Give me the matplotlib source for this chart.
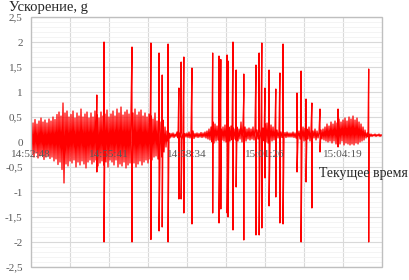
import matplotlib
matplotlib.use('Agg')
from matplotlib import pyplot as plt
from matplotlib.patches import Rectangle
from matplotlib.ticker import MultipleLocator

# time step between samples, seconds (one sample ~ 2 px of the original chart)
step = 4.436
grid_step = 86.5
x_end = 778.5

tick_pos = [0, 173, 346, 519, 692]
tick_labels = ['14:52:48', '14:55:41', '14:58:34', '15:01:26', '15:04:19']

y_ticks = [2.5, 2, 1.5, 1, 0.5, 0, -0.5, -1, -1.5, -2, -2.5]
y_labels = ['2,5', '2', '1,5', '1', '0,5', '0', '-0,5', '-1', '-1,5', '-2', '-2,5']

# local maxima / minima of the oscillation, one pair per sample
peaks_hi = [
    0.40, 0.38, 0.45, 0.36, 0.42, 0.48, 0.40, 0.44, 0.38, 0.46,
    0.42, 0.50, 0.45, 0.55, 0.60, 0.52, 0.78, 0.58, 0.62, 0.50,
    0.55, 0.62, 0.48, 0.58, 0.52, 0.66, 0.50, 0.56, 0.60, 0.48,
    0.58, 0.50, 0.62, 0.54, 0.48, 0.60, 0.52, 0.56, 0.64, 0.50,
    0.56, 0.62, 0.52, 0.66, 0.58, 0.70, 0.54, 0.60, 0.64, 0.56,
    0.62, 0.58, 0.66, 0.54, 0.60, 0.64, 0.52, 0.58, 0.50, 0.56,
    0.52, 0.46, 0.58, 0.42, 0.50, 0.40, 0.44, 0.30, 0.22, 0.18,
    0.17, 0.18, 0.16, 0.20, 0.18, 0.24, 0.19, 0.17, 0.18, 0.20,
    0.18, 0.22, 0.17, 0.18, 0.17, 0.19, 0.18, 0.20, 0.22, 0.26,
    0.30, 0.40, 0.36, 0.32, 0.28, 0.26, 0.30, 0.34, 0.28, 0.30,
    0.32, 0.28, 0.26, 0.30, 0.26, 0.40, 0.36, 0.30, 0.26, 0.28,
    0.26, 0.30, 0.28, 0.24, 0.30, 0.26, 0.28, 0.36, 0.38, 0.32,
    0.34, 0.30, 0.28, 0.24, 0.22, 0.20, 0.18, 0.19, 0.20, 0.18,
    0.18, 0.20, 0.18, 0.20, 0.22, 0.26, 0.30, 0.28, 0.26, 0.30,
    0.24, 0.22, 0.26, 0.22, 0.20, 0.24, 0.26, 0.30, 0.36, 0.32,
    0.40, 0.36, 0.42, 0.38, 0.46, 0.40, 0.44, 0.48, 0.42, 0.50,
    0.46, 0.52, 0.44, 0.48, 0.40, 0.36, 0.30, 0.24, 0.18, 0.16,
    0.16, 0.15, 0.16, 0.15, 0.16, 0.15,
]
peaks_lo = [
    -0.25, -0.30, -0.22, -0.32, -0.28, -0.26, -0.35, -0.30, -0.28, -0.33,
    -0.30, -0.38, -0.34, -0.45, -0.40, -0.55, -0.82, -0.44, -0.48, -0.38,
    -0.42, -0.36, -0.50, -0.40, -0.46, -0.38, -0.44, -0.52, -0.40, -0.36,
    -0.44, -0.40, -0.36, -0.48, -0.42, -0.38, -0.46, -0.40, -0.50, -0.36,
    -0.40, -0.46, -0.36, -0.50, -0.44, -0.48, -0.40, -0.52, -0.46, -0.42,
    -0.48, -0.42, -0.50, -0.44, -0.38, -0.46, -0.40, -0.36, -0.42, -0.34,
    -0.36, -0.30, -0.28, -0.34, -0.24, -0.30, -0.20, -0.10, 0.02, 0.08,
    0.10, 0.09, 0.11, 0.08, 0.10, 0.04, 0.09, 0.10, 0.09, 0.08,
    0.10, 0.07, 0.10, 0.09, 0.10, 0.09, 0.10, 0.08, 0.06, 0.04,
    0.00, -0.02, 0.02, 0.04, 0.06, 0.04, 0.02, 0.00, 0.04, 0.02,
    0.04, 0.06, 0.04, 0.02, 0.06, 0.00, -0.04, 0.02, 0.06, 0.04,
    0.06, 0.04, 0.02, 0.06, 0.04, 0.06, 0.02, 0.00, -0.02, 0.00,
    0.02, 0.04, 0.06, 0.08, 0.10, 0.09, 0.10, 0.09, 0.10, 0.10,
    0.10, 0.09, 0.08, 0.10, 0.06, 0.04, 0.02, 0.04, 0.06, 0.02,
    0.06, 0.08, 0.04, 0.08, 0.08, 0.06, 0.04, 0.02, 0.00, 0.02,
    -0.02, 0.02, -0.04, 0.00, -0.04, 0.02, -0.06, -0.02, -0.04, -0.06,
    -0.04, -0.06, -0.02, -0.04, 0.00, 0.02, 0.04, 0.08, 0.10, 0.11,
    0.11, 0.12, 0.11, 0.12, 0.11, 0.12,
]

# isolated shocks: time (s from 14:52:48), max and min, g
spike_t = [146, 162, 224, 266, 284, 291, 304, 328, 333, 339, 357,
           403, 417, 421, 435, 437, 448, 455, 472, 472, 499, 506,
           512, 519, 528, 543, 552, 559, 590, 599, 610, 623, 641, 681, 749]
spike_hi = [0.94, 2.00, 1.90, 1.98, 1.78, 1.34, 1.96, 1.08, 1.60, 1.70, 1.48,
            1.78, 1.72, 1.65, 1.74, 1.62, 2.00, 1.44, 0.94, 1.36, 1.54, 1.78,
            1.98, 1.08, 1.44, 1.06, 1.38, 1.96, 0.98, 1.42, 0.86, 0.78, 0.66, 0.66, 1.46]
spike_lo = [-0.60, -2.00, -2.00, -1.95, -1.78, -1.70, -2.00, -1.14, -1.14, -1.42, -1.64,
            -1.42, -1.62, -1.34, -1.42, -1.50, -1.76, -0.90, -1.96, -0.42, -1.86, -1.86,
            -1.72, -0.72, -1.28, -1.10, -1.62, -1.64, -0.60, -2.00, -0.80, -1.32, -0.20, -0.10, -2.00]

# merge oscillation and shocks into one time-ordered series
events = []
for i, (hi, lo) in enumerate(zip(peaks_hi, peaks_lo)):
    events.append((i * step, hi))
    events.append((i * step + step / 2, lo))
for t, hi, lo in zip(spike_t, spike_hi, spike_lo):
    events.append((t - 0.01, hi))
    events.append((t + 0.01, lo))
events.sort()
times = [e[0] for e in events]
values = [e[1] for e in events]

plt.rcParams['font.family'] = ['Liberation Serif', 'DejaVu Serif']

fig = plt.figure(figsize=(4.1, 2.8), dpi=100)
ax = fig.add_axes([31 / 410, 13 / 280, 351 / 410, 250 / 280])

ax.plot(times, values, color='#ff0000', linewidth=0.9, zorder=3)

ax.set_xlim(0, x_end)
ax.set_ylim(-2.5, 2.5)

ax.set_yticks(y_ticks)
ax.set_yticklabels(y_labels)
ax.yaxis.set_minor_locator(MultipleLocator(0.1))
ax.set_xticks(tick_pos)
ax.set_xticklabels(tick_labels)
ax.tick_params(axis='x', length=0, pad=6, labelsize=8, labelcolor='#595959')
ax.tick_params(axis='y', which='both', length=0, labelsize=8, labelcolor='#595959', pad=6)
ax.xaxis.set_zorder(5)

# horizontal grid from ticks, vertical grid every 86.5 s
ax.grid(True, which='major', axis='y', color='#d9d9d9', linewidth=0.8, zorder=0)
ax.grid(True, which='minor', axis='y', color='#f2f2f2', linewidth=0.6, zorder=0)
g = grid_step
while g < x_end - 1:
    ax.axvline(g, color='#d9d9d9', linewidth=0.8, zorder=0)
    g += grid_step

# x labels sit on the zero line, like the original
ax.spines['bottom'].set_position(('data', 0))
for s in ax.spines.values():
    s.set_visible(False)
ax.add_patch(Rectangle((0, 0), 1, 1, transform=ax.transAxes, fill=False,
                       edgecolor='#bfbfbf', linewidth=1, clip_on=False, zorder=4))

fig.text(9 / 410, 1 - 7 / 280, 'Ускорение, g', fontsize=10.5, color='#262626', va='center', ha='left')
fig.text(408 / 410, 1 - 174 / 280, 'Текущее время', fontsize=10, color='#262626', va='center', ha='right')

fig.savefig('out.png', dpi=100)
plt.close(fig)
